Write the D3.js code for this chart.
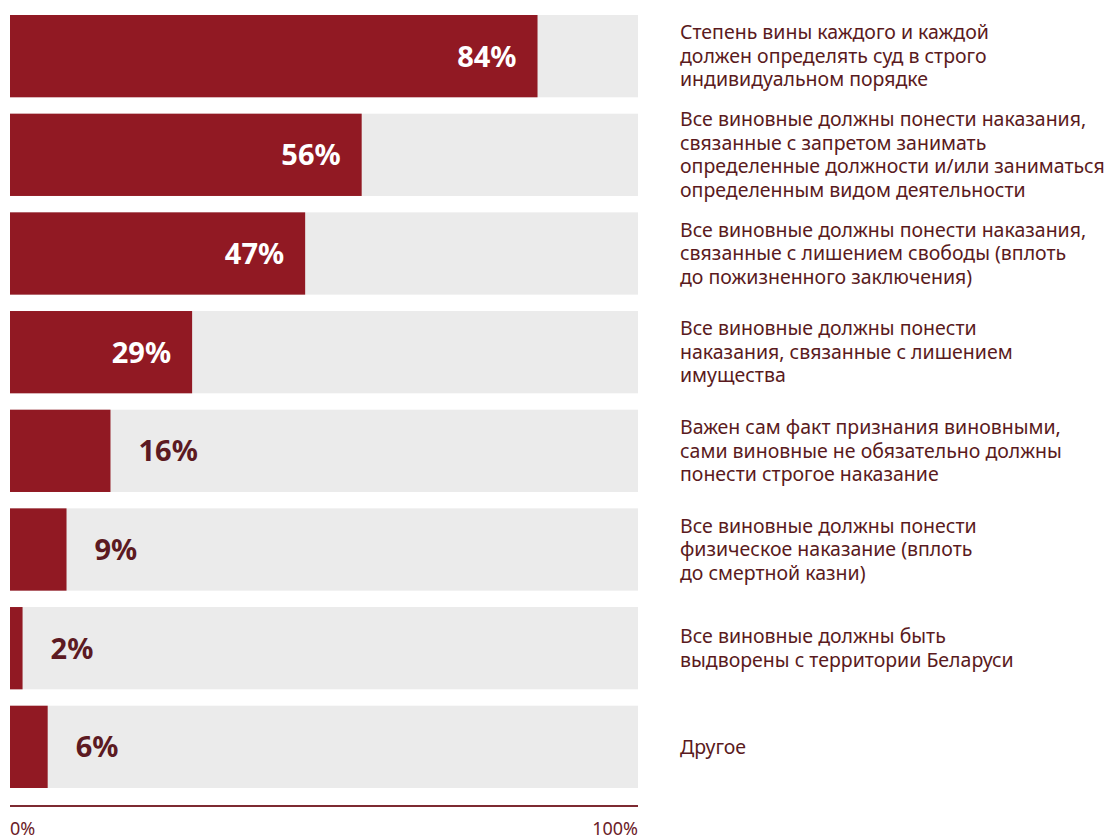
<!DOCTYPE html>
<html>
<head>
<meta charset="utf-8">
<script src="https://cdn.jsdelivr.net/npm/d3@7"></script>
<style>
  body { margin: 0; background: #fff; }
  text { font-family: "Noto Sans", sans-serif; }
</style>
</head>
<body>
<script>
// data
const categories = [
  ["Степень вины каждого и каждой", "должен определять суд в строго", "индивидуальном порядке"],
  ["Все виновные должны понести наказания,", "связанные с запретом занимать", "определенные должности и/или заниматься", "определенным видом деятельности"],
  ["Все виновные должны понести наказания,", "связанные с лишением свободы (вплоть", "до пожизненного заключения)"],
  ["Все виновные должны понести", "наказания, связанные с лишением", "имущества"],
  ["Важен сам факт признания виновными,", "сами виновные не обязательно должны", "понести строгое наказание"],
  ["Все виновные должны понести", "физическое наказание (вплоть", "до смертной казни)"],
  ["Все виновные должны быть", "выдворены с территории Беларуси"],
  ["Другое"]
];
const values = [84, 56, 47, 29, 16, 9, 2, 6];
const tickLabels = ["0%", "100%"];

const w = 1114, h = 839;
const svg = d3.select("body").append("svg")
  .attr("width", w)
  .attr("height", h);

const x = d3.scaleLinear().domain([0, 100]).range([10, 638]);
const y = d3.scaleBand().domain(d3.range(values.length)).range([15, 788]).paddingInner(0.166).paddingOuter(0);

const rows = svg.selectAll("g.row")
  .data(values)
  .enter()
  .append("g")
  .attr("class", "row")
  .attr("transform", (d, i) => "translate(0," + y(i) + ")");

// grey track
rows.append("rect")
  .attr("x", x(0))
  .attr("width", x(100) - x(0))
  .attr("height", y.bandwidth())
  .attr("fill", "#ebebeb");

// value bar
rows.append("rect")
  .attr("x", x(0))
  .attr("width", d => x(d) - x(0))
  .attr("height", y.bandwidth())
  .attr("fill", "#911923");

// value labels
rows.append("text")
  .attr("x", d => d >= 25 ? x(d) - 21 : x(d) + 28)
  .attr("y", y.bandwidth() / 2)
  .attr("dy", "0.36em")
  .attr("text-anchor", d => d >= 25 ? "end" : "start")
  .attr("font-size", 29)
  .attr("font-weight", "bold")
  .attr("fill", d => d >= 25 ? "#fff" : "#5c1a22")
  .text(d => d + "%");

// category labels
const lineH = 23.5;
rows.each(function(d, i) {
  const lines = categories[i];
  const t = d3.select(this).append("text")
    .attr("x", 680)
    .attr("font-size", 19.5)
    .attr("fill", "#5a1a20");
  lines.forEach((ln, j) => {
    t.append("tspan")
      .attr("x", 680)
      .attr("y", y.bandwidth() / 2 + (j - (lines.length - 1) / 2) * lineH)
      .attr("dy", "0.35em")
      .text(ln);
  });
});

// axis line
svg.append("line")
  .attr("x1", x(0)).attr("x2", x(100))
  .attr("y1", 806).attr("y2", 806)
  .attr("stroke", "#7d2a31")
  .attr("stroke-width", 2);

svg.selectAll("text.tick")
  .data(tickLabels)
  .enter()
  .append("text")
  .attr("class", "tick")
  .attr("x", (d, i) => x(i * 100))
  .attr("y", 835)
  .attr("text-anchor", (d, i) => i === 0 ? "start" : "end")
  .attr("font-size", 18)
  .attr("fill", "#6b2128")
  .text(d => d);
</script>
</body>
</html>
